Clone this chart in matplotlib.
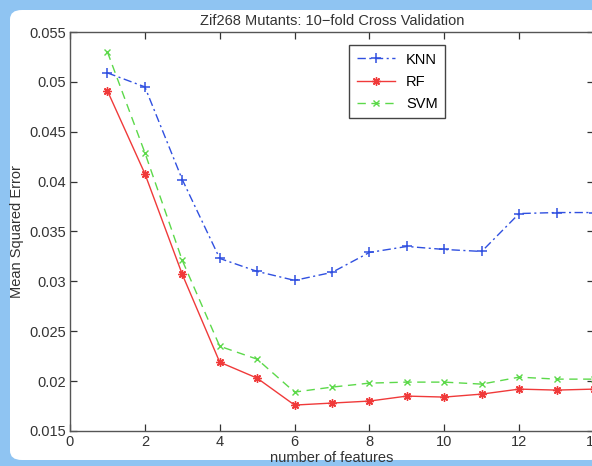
import matplotlib.pyplot as plt
from matplotlib.patches import FancyBboxPatch

plt.rcParams['font.family'] = ['Liberation Sans', 'DejaVu Sans']

# number of features on x, mean squared error per model
n_features = [1, 2, 3, 4, 5, 6, 7, 8, 9, 10, 11, 12, 13, 14]
knn = [0.0509, 0.0495, 0.0402, 0.0323, 0.0310, 0.0301, 0.0309, 0.0329,
       0.0335, 0.0332, 0.0330, 0.0368, 0.0369, 0.0369]
rf = [0.0491, 0.0408, 0.0307, 0.0219, 0.0203, 0.0176, 0.0178, 0.0180,
      0.0185, 0.0184, 0.0187, 0.0192, 0.0191, 0.0192]
svm = [0.0530, 0.0429, 0.0321, 0.0235, 0.0222, 0.0189, 0.0194, 0.0198,
       0.0199, 0.0199, 0.0197, 0.0204, 0.0202, 0.0202]

W, H = 592, 466
fig = plt.figure(figsize=(W / 100, H / 100), dpi=100, facecolor='#8FC4F2')

# white rounded panel inside the blue frame
panel = FancyBboxPatch((10 / W, 6 / H), 1.0, 450 / H,
                       boxstyle='round,pad=0,rounding_size=0.02',
                       transform=fig.transFigure, facecolor='white',
                       edgecolor='none', zorder=-10)
fig.patches.append(panel)

ax = fig.add_axes([70 / W, 35 / H, 524 / W, 399 / H])
ax.plot(n_features, knn, color='#3050E0', marker='+', ms=7, mew=1.1,
        lw=1.0, dashes=(6, 2.5, 1.5, 2.5), label='KNN')
ax.plot(n_features, rf, '-', color='#F03A3A', marker=(8, 2, 0), ms=6,
        mew=1.0, lw=1.0, label='RF')
ax.plot(n_features, svm, color='#5CD94A', marker='x', ms=5, mew=1.0,
        lw=1.0, dashes=(6, 4), label='SVM')

ax.set_xlim(0, 14)
ax.set_ylim(0.015, 0.055)
ax.set_xticks([0, 2, 4, 6, 8, 10, 12, 14])
ax.set_yticks([0.015, 0.02, 0.025, 0.03, 0.035, 0.04, 0.045, 0.05, 0.055])
ax.set_yticklabels(['0.015', '0.02', '0.025', '0.03', '0.035', '0.04',
                    '0.045', '0.05', '0.055'])
ax.tick_params(direction='in', length=5, width=0.9, top=True, right=True,
               labelsize=10.5, colors='#333333', pad=3)
for s in ax.spines.values():
    s.set_color('#555555')
    s.set_linewidth(1.0)

ax.set_title('Zif268 Mutants: 10\u2212fold Cross Validation', fontsize=10.5,
             color='#333333', pad=5)
ax.set_xlabel('number of features', fontsize=10.5, color='#333333', labelpad=1)
ax.set_ylabel('Mean Squared Error', fontsize=10.5, color='#333333', labelpad=4)

leg = ax.legend(loc='upper left', bbox_to_anchor=(272 / 524, 1 - 6 / 399),
                fontsize=10.5, fancybox=False, framealpha=1,
                edgecolor='#444444', handlelength=2.6, borderpad=0.5,
                labelspacing=0.55)
leg.get_frame().set_linewidth(1.0)

fig.savefig('out.png', dpi=100, facecolor=fig.get_facecolor())
